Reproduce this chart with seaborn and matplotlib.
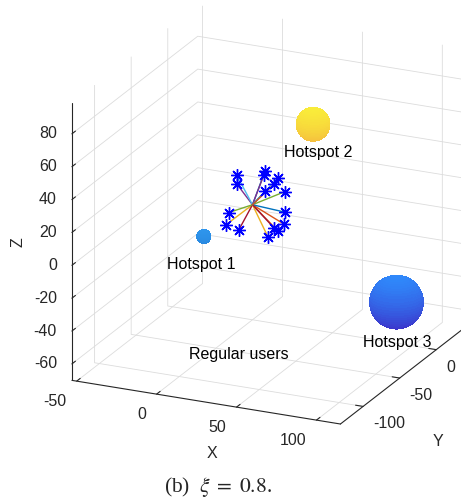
import numpy as np
import matplotlib
matplotlib.use("Agg")
import matplotlib.pyplot as plt
import seaborn as sns
from mpl_toolkits.mplot3d import proj3d
from matplotlib.colors import LinearSegmentedColormap
from matplotlib.transforms import ScaledTranslation

sns.set_style("white")
plt.rcParams["font.family"] = ["Liberation Sans", "DejaVu Sans"]
plt.rcParams["mathtext.fontset"] = "stix"
plt.rcParams["axes.unicode_minus"] = False
plt.rcParams["grid.color"] = "#DCDCDC"
plt.rcParams["grid.linewidth"] = 0.6

# ---------------- data ----------------
user_x = [7, 16, -8, -16, 19, -15, 1, 13, 18, 8, 8, -18, 14, 8, 13, 4]
user_y = [2, 8, -19, 14, 3, 11, -21, 16, -4, 4, -2, 7, 4, 12, -11, 21]
user_z = [21, -12, -7, 5, 10, 12, -8, -8, -12, -20, 20, -10, 17, -17, 14, 6]
hub = (0, 0, 0)

hotspot_names = ["Hotspot 1", "Hotspot 2", "Hotspot 3"]
hotspot_x = [-22.5, 24.6, 82.7]
hotspot_y = [-17.4, 29.1, 16.2]
hotspot_z = [-16.9, 42.8, -51.8]
hotspot_r = [4.0, 9.6, 15.3]
hotspot_label_dz = [-17.0, -16.5, -24.5]
hotspot_label_dx = [-1.5, 3.0, 0.5]
hotspot_top_color = ["#2E95EC", "#F9EC3A", "#2F88FA"]
hotspot_bottom_color = ["#2786DE", "#F5BC3E", "#3D2CC6"]

regular_label = "Regular users"
regular_pos = (20.7, -64.1, -66.0)

x_ticks = [-50, 0, 50, 100]
y_ticks = [-100, -50, 0]
z_ticks = [-60, -40, -20, 0, 20, 40, 60, 80]
xlim = (-53, 115)
ylim = (-131, 41)
zlim = (-70, 99)

line_palette = sns.color_palette(["#0072BD", "#D95319", "#EDB120", "#7E2F8E",
                                  "#77AC30", "#4DBEEE", "#A2142F"])

# ---------------- figure ----------------
W, H = 461, 501
fig = plt.figure(figsize=(W / 100, H / 100), dpi=100)
ax = fig.add_axes([0, 0, 1, 1], projection="3d")
ax.set_proj_type("ortho")
ax.view_init(elev=20.8, azim=-65.4)
ax.set_xlim(*xlim)
ax.set_ylim(*ylim)
ax.set_zlim(*zlim)
ax.set_box_aspect((xlim[1] - xlim[0], ylim[1] - ylim[0], zlim[1] - zlim[0]))

ink = "#262626"
for axis in (ax.xaxis, ax.yaxis, ax.zaxis):
    axis.set_pane_color((1, 1, 1, 0))
    axis.pane.set_edgecolor("none")
    axis.line.set_color(ink)
    axis.line.set_linewidth(0.8)
    axis._axinfo["grid"].update(color="#DCDCDC", linewidth=0.6)
    axis._axinfo["tick"].update(inward_factor=0.0, outward_factor=0.35)
    axis._axinfo["tick"]["linewidth"] = {True: 0.8, False: 0.5}
ax.zaxis.set_ticks_position("lower")
ax.set_xticks(x_ticks)
ax.set_yticks(y_ticks)
ax.set_zticks(z_ticks)
ax.set_xticklabels([])
ax.set_yticklabels([])
ax.set_zticklabels([])
ax.tick_params(axis="x", colors=ink)
ax.tick_params(axis="y", colors=ink)
ax.tick_params(axis="z", colors=ink)
ax.grid(True)

# user links
for i, (ux, uy, uz) in enumerate(zip(user_x, user_y, user_z)):
    ax.plot([hub[0], ux], [hub[1], uy], [hub[2], uz],
            color=line_palette[i % len(line_palette)], lw=1.0)
ax.plot(user_x, user_y, user_z, linestyle="none", marker=(8, 2, 0),
        markersize=9, markeredgewidth=1.0, color="#0000FF")

# hotspot spheres
u = np.linspace(0, 2 * np.pi, 48)
v = np.linspace(0, np.pi, 32)
for name, cx, cy, cz, r, ct, cb in zip(hotspot_names, hotspot_x, hotspot_y,
                                       hotspot_z, hotspot_r, hotspot_top_color,
                                       hotspot_bottom_color):
    X = cx + r * np.outer(np.cos(u), np.sin(v))
    Y = cy + r * np.outer(np.sin(u), np.sin(v))
    Z = cz + r * np.outer(np.ones_like(u), np.cos(v))
    cmap = LinearSegmentedColormap.from_list(name, [cb, ct])
    fc = cmap((Z - (cz - r)) / (2 * r))
    ax.plot_surface(X, Y, Z, facecolors=fc, shade=False, linewidth=0,
                    antialiased=False, rstride=1, cstride=1)

# --- place the 3D box so its corners land where the reference has them ---
fig.canvas.draw()
M = ax.get_proj()


def project(x, y, z):
    x2, y2, _ = proj3d.proj_transform(x, y, z, M)
    return x2, y2


corners = [(xlim[0], ylim[0], zlim[0]), (xlim[1], ylim[0], zlim[0]),
           (xlim[0], ylim[0], zlim[1]), (xlim[0], ylim[1], zlim[1])]
targets = np.array([(72, 380), (342, 424), (72, 102), (196, 6)], float)
targets[:, 1] = H - targets[:, 1]
pts = np.array([ax.transData.transform(project(*c)) for c in corners])
bb = ax.get_position(original=False)
S0 = min(bb.width * W, bb.height * H)
c0 = np.array([(bb.x0 + bb.width / 2) * W, (bb.y0 + bb.height / 2) * H])
q = (pts - c0) / S0
A = np.zeros((8, 3))
b = np.zeros(8)
for i in range(4):
    A[2 * i] = [1, 0, q[i, 0]]
    b[2 * i] = targets[i, 0]
    A[2 * i + 1] = [0, 1, q[i, 1]]
    b[2 * i + 1] = targets[i, 1]
cx1, cy1, S1 = np.linalg.lstsq(A, b, rcond=None)[0]
ax.set_position([(cx1 - S1 / 2) / W, (cy1 - S1 / 2) / H, S1 / W, S1 / H])


def shifted(dx, dy):
    """projected-data transform shifted by (dx, dy) screen pixels (dy downwards)"""
    return ax.transData + ScaledTranslation(dx / fig.dpi, -dy / fig.dpi,
                                            fig.dpi_scale_trans)


def label3d(x, y, z, s, dx=0, dy=0, **kw):
    px, py = project(x, y, z)
    ax.text2D(px, py, s, transform=shifted(dx, dy), **kw)


# tick labels, MATLAB-style alignment
for t in x_ticks:
    label3d(t, ylim[0], zlim[0], f"{t}", -10.5, 13, ha="right", va="top",
            fontsize=11.5, color=ink)
for t in y_ticks:
    label3d(xlim[1], t, zlim[0], f"{t}", 10, 10, ha="left", va="top",
            fontsize=11.5, color=ink)
for t in z_ticks:
    label3d(xlim[0], ylim[0], t, f"{t}", -15, 0, ha="right", va="center",
            fontsize=11.5, color=ink)

# hotspot / user annotations
for name, cx, cy, cz, dz, dx in zip(hotspot_names, hotspot_x, hotspot_y, hotspot_z,
                                    hotspot_label_dz, hotspot_label_dx):
    label3d(cx + dx, cy, cz + dz, name, ha="center", va="center",
            fontsize=11.5, color="black", zorder=10)
label3d(*regular_pos, regular_label, ha="center", va="center",
        fontsize=11.5, color="black", zorder=10)

# axis titles (placed where the reference shows them)
fig.text(212 / W, 1 - 453 / H, "X", ha="center", va="center", fontsize=11.5, color=ink)
fig.text(438 / W, 1 - 441 / H, "Y", ha="center", va="center", fontsize=11.5, color=ink)
fig.text(18 / W, 1 - 242 / H, "Z", ha="center", va="center", fontsize=11.5,
         color=ink, rotation=90)

fig.text(218 / W, 1 - 487 / H, r"(b)  $\xi\;=\;0.8$.", ha="center", va="center",
         fontsize=15.5, family=["Liberation Serif", "DejaVu Serif"])

fig.savefig("out.png", dpi=100, facecolor="white")
